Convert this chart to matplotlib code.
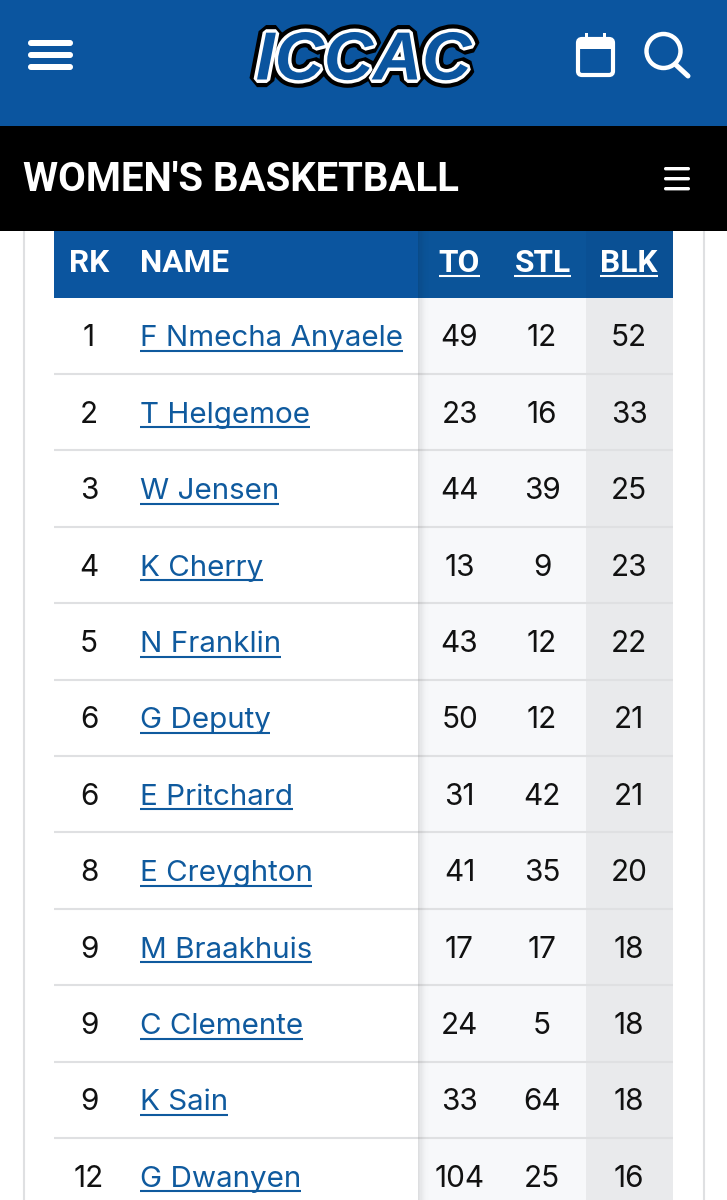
import matplotlib
matplotlib.use('Agg')
import matplotlib.pyplot as plt
import matplotlib.patheffects as pe
from matplotlib.patches import Rectangle, FancyBboxPatch, Circle

ranks = [1, 2, 3, 4, 5, 6, 6, 8, 9, 9, 9, 12]
names = ['F Nmecha Anyaele', 'T Helgemoe', 'W Jensen', 'K Cherry', 'N Franklin', 'G Deputy',
         'E Pritchard', 'E Creyghton', 'M Braakhuis', 'C Clemente', 'K Sain', 'G Dwanyen']
turnovers = [49, 23, 44, 13, 43, 50, 31, 41, 17, 24, 33, 104]
steals = [12, 16, 39, 9, 12, 12, 42, 35, 17, 5, 64, 25]
blocks = [52, 33, 25, 23, 22, 21, 21, 20, 18, 18, 18, 16]

BLUE = '#0B559F'
BLUE_DARK = '#0A5094'
LINK = '#0F5A9E'
LINE = '#DFE0E2'
BODY = 'Inter'
HEAD = 'Roboto'

fig = plt.figure(figsize=(7.27, 12), dpi=100)
ax = fig.add_axes([0, 0, 1, 1])
ax.set_xlim(0, 727)
ax.set_ylim(1200, 0)
ax.axis('off')


def rect(x0, y0, x1, y1, color, z=1, **kw):
    ax.add_patch(Rectangle((x0, y0), x1 - x0, y1 - y0, fc=color, ec='none', zorder=z, **kw))


def bar(x0, y0, x1, y1, color='white'):
    # little rounded bar for the menu icons
    r = (y1 - y0) / 2
    ax.add_patch(FancyBboxPatch((x0 + r, y0 + r), x1 - x0 - 2 * r, 0,
                                boxstyle=f'round,pad={r}', fc=color, ec='none', zorder=6))


def underlined(x, y, s, color, size, ha='left', weight='normal', family=BODY, offset=5, lw=1.5):
    t = ax.text(x, y, s, color=color, fontsize=size, ha=ha, va='baseline',
                fontweight=weight, family=family, zorder=5)
    bb = t.get_window_extent(fig.canvas.get_renderer())
    ax.plot([bb.x0, bb.x1], [y + offset, y + offset], color=color, lw=lw, zorder=5,
            solid_capstyle='butt')


# card side borders
ax.plot([23.5, 23.5], [231, 1200], color=LINE, lw=1.5, zorder=1)
ax.plot([703.5, 703.5], [231, 1200], color=LINE, lw=1.5, zorder=1)

# top bars
rect(0, 0, 727, 126, BLUE, z=4)
rect(0, 126, 727, 231, 'black', z=4)

for y0 in (40, 52, 64):
    bar(28, y0, 73, y0 + 6)
for y0 in (167, 177, 187):
    bar(664, y0, 690, y0 + 3.4)

# logo
ax.text(363.5, 79.5, 'ICCAC', family='Liberation Sans', fontsize=49, fontweight='bold', style='italic',
        ha='center', va='baseline', color=BLUE, zorder=6,
        path_effects=[pe.withStroke(linewidth=11, foreground='black', joinstyle='bevel'),
                      pe.withStroke(linewidth=5, foreground='white', joinstyle='bevel')])

# calendar
ax.add_patch(FancyBboxPatch((578, 39), 35, 36, boxstyle='round,pad=0,rounding_size=4',
                            fc='none', ec='white', lw=3, zorder=6))
rect(577, 39, 614, 49, 'white', z=6)
rect(585, 33, 588, 40, 'white', z=6)
rect(603, 33, 606, 40, 'white', z=6)

# search
ax.add_patch(Circle((663.5, 51), 17, fc='none', ec='white', lw=3.2, zorder=6))
ax.plot([675, 688], [64, 76], color='white', lw=3.6, solid_capstyle='round', zorder=6)

ax.text(23, 191, "WOMEN'S BASKETBALL", color='white', fontsize=28.9, fontweight='bold',
        family=HEAD, va='baseline', zorder=6)

# table background
rect(54, 231, 673, 298, BLUE, z=2)
rect(418, 231, 586, 298, '#0B5499', z=2)
rect(586, 231, 673, 298, BLUE_DARK, z=2)
rect(418, 298, 586, 1200, '#F7F8FA', z=1)
rect(586, 298, 673, 1200, '#E9EAEC', z=1)

# shadow to the right of the frozen columns
for i in range(10):
    rect(418 + i * 1.2, 231, 419.2 + i * 1.2, 1200, 'black', z=3, alpha=0.10 * (1 - i / 10) ** 2)

ax.text(89, 272, 'RK', color='white', fontsize=22.8, fontweight='bold', family=HEAD, ha='center', va='baseline', zorder=5)
ax.text(139.5, 272, 'NAME', color='white', fontsize=22.8, fontweight='bold', family=HEAD, va='baseline', zorder=5)
for cx, label in zip((459.5, 542.5, 629), ('TO', 'STL', 'BLK')):
    underlined(cx, 272, label, 'white', 22.8, ha='center', weight='bold', family=HEAD, offset=3.5, lw=1.5)

# rows
row_h = 76.4
for i, (rk, name, to, stl, blk) in enumerate(zip(ranks, names, turnovers, steals, blocks)):
    base = 346.5 + i * row_h
    ax.text(89, base, str(rk), color='#111111', fontsize=21.4, family=BODY, ha='center', va='baseline', zorder=5)
    underlined(139.5, base, name, LINK, 21.3, offset=4.5)
    for cx, val in zip((459.5, 542, 629), (to, stl, blk)):
        ax.text(cx, base, str(val), color='#111111', fontsize=21.4, family=BODY, ha='center', va='baseline', zorder=5)
    edge = 298 + (i + 1) * row_h - 0.5
    if edge < 1200:
        ax.plot([54, 673], [edge, edge], color=LINE, lw=1.5, zorder=2, solid_capstyle='butt')

fig.savefig('out.png', dpi=100)
